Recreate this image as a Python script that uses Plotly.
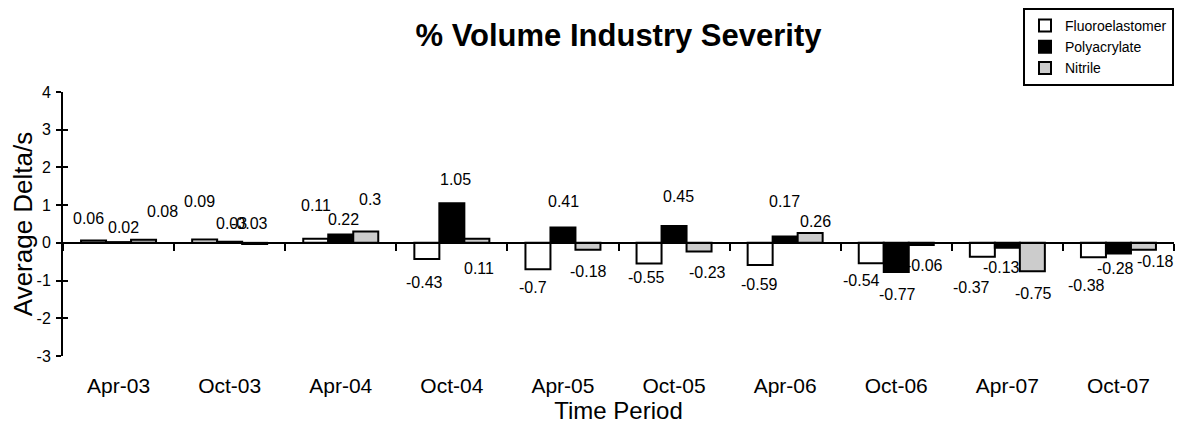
import plotly.graph_objects as go

categories = ["Apr-03", "Oct-03", "Apr-04", "Oct-04", "Apr-05",
              "Oct-05", "Apr-06", "Oct-06", "Apr-07", "Oct-07"]
fluoroelastomer = [0.06, 0.09, 0.11, -0.43, -0.70, -0.55, -0.59, -0.54, -0.37, -0.38]
polyacrylate = [0.02, 0.03, 0.22, 1.05, 0.41, 0.45, 0.17, -0.77, -0.13, -0.28]
nitrile = [0.08, -0.03, 0.30, 0.11, -0.18, -0.23, 0.26, -0.06, -0.75, -0.18]
y_ticks = [-3, -2, -1, 0, 1, 2, 3, 4]

FONT = "Arial, Liberation Sans, Helvetica, sans-serif"

series = [
    ("Fluoroelastomer", fluoroelastomer, "#FFFFFF"),
    ("Polyacrylate", polyacrylate, "#000000"),
    ("Nitrile", nitrile, "#CCCCCC"),
]

# label placement offsets (pixels): horizontal shift from bar centre, vertical shift from bar end
bar_px = 25
series_shift = [-bar_px, 0, bar_px]
label_dx = [
    [-5.5, -5.5, 0, -2.5, -4.5, -2.5, -0.5, -9.5, -10.5, -6.5],
    [4.5, 1.5, 2.5, 3.5, 0.5, 4.5, -0.5, 1.5, -5.5, -2.5],
    [18.5, -5, 4.5, 2.5, 0.5, 8.5, 5.5, 2.8, 1.5, 12.5],
]
label_dy = [
    [22, 38, 33, -23, -18, -14, -19, -17, -31, -28],
    [15, 18, 15, 24, 26, 29, 35, -23, -20, -15],
    [28, 20, 32, -30, -22, -21, 12, -20, -22, -12],
]

fig = go.Figure()
for name, vals, color in series:
    fig.add_trace(go.Bar(
        x=categories, y=vals, name=name,
        marker=dict(color=color, line=dict(color="#000000", width=2)),
        hoverinfo="x+y",
    ))

# helper traces so the overlay axes (zero-line axis with boundary ticks, crossing y ticks) render
fig.add_trace(go.Scatter(x=categories, y=[None] * len(categories), xaxis="x2", yaxis="y",
                         showlegend=False, hoverinfo="skip", mode="markers"))
fig.add_trace(go.Scatter(x=categories, y=[None] * len(categories), xaxis="x", yaxis="y2",
                         showlegend=False, hoverinfo="skip", mode="markers"))

annotations = []
for si, (name, vals, color) in enumerate(series):
    for ci, v in enumerate(vals):
        annotations.append(dict(
            x=categories[ci], y=v, xref="x", yref="y",
            text=f"{v:g}", showarrow=False,
            xshift=series_shift[si] + label_dx[si][ci],
            yshift=label_dy[si][ci],
            font=dict(family=FONT, size=16, color="#000000"),
            xanchor="center", yanchor="middle",
        ))

W, H = 1167, 416  # page body adds an 8px margin around the figure
fig.update_layout(
    width=W, height=H,
    margin=dict(l=55, r=1, t=84, b=68, autoexpand=False),
    paper_bgcolor="#FFFFFF", plot_bgcolor="#FFFFFF",
    font=dict(family=FONT, color="#000000"),
    barmode="group", bargap=0.325, bargroupgap=0,
    title=dict(text="<b>% Volume Industry Severity</b>", x=0.5, xref="paper",
               xanchor="center", y=1 - 27 / H, yanchor="middle",
               font=dict(family=FONT, size=31, color="#000000")),
    xaxis=dict(
        type="category", categoryorder="array", categoryarray=categories,
        range=[-0.5, len(categories) - 0.5],
        showline=False, showgrid=False, zeroline=False,
        ticks="", ticklabelstandoff=15,
        tickfont=dict(family=FONT, size=21),
        title=dict(text="Time Period", font=dict(family=FONT, size=24), standoff=12),
    ),
    xaxis2=dict(
        type="category", categoryorder="array", categoryarray=categories,
        range=[-0.5, len(categories) - 0.5],
        overlaying="x", anchor="free", position=3 / 7,
        showline=True, linecolor="#000000", linewidth=2,
        ticks="outside", tickson="boundaries", ticklen=7, tickwidth=2, tickcolor="#000000",
        showticklabels=False, showgrid=False, zeroline=False,
    ),
    yaxis=dict(
        range=[-3, 4], tickvals=y_ticks, ticktext=[str(t) for t in y_ticks],
        showline=True, linecolor="#000000", linewidth=2,
        ticks="outside", ticklen=5, tickwidth=2, tickcolor="#000000",
        ticklabelstandoff=2,
        tickfont=dict(family=FONT, size=16),
        showgrid=False, zeroline=False,
        title=dict(text="Average Delta/s", font=dict(family=FONT, size=26), standoff=12),
    ),
    yaxis2=dict(
        range=[-3, 4], tickvals=y_ticks, overlaying="y", side="left",
        showline=False, ticks="inside", ticklen=5, tickwidth=2, tickcolor="#000000",
        showticklabels=False, showgrid=False, zeroline=False,
    ),
    legend=dict(
        x=(W - 1) / W, xref="container", xanchor="right",
        y=1, yref="container", yanchor="top",
        bgcolor="#FFFFFF", bordercolor="#000000", borderwidth=2,
        font=dict(family=FONT, size=14, color="#000000"),
        tracegroupgap=0, itemwidth=30,
    ),
    showlegend=True,
    annotations=annotations,
)

fig.write_html("out.html")
